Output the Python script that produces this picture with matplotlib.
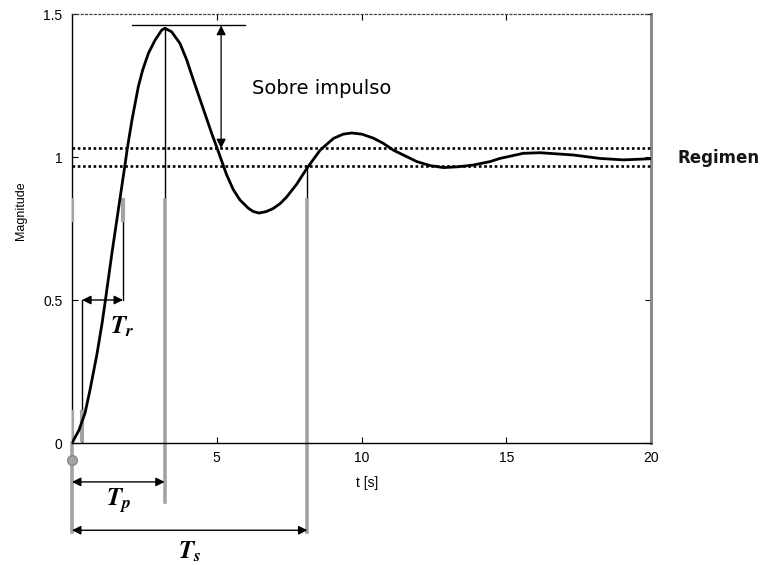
import matplotlib
matplotlib.use("Agg")
import matplotlib.pyplot as plt

# step response
t_resp = [0, 0.24, 0.45, 0.62, 0.86, 1.04, 1.14, 1.38, 1.65, 1.82, 1.91,
          2.07, 2.29, 2.44, 2.64, 2.87, 3.10, 3.21, 3.44, 3.73, 3.96, 4.19,
          4.42, 4.65, 4.83, 5.05, 5.34, 5.57, 5.80, 6.09, 6.25, 6.46, 6.70,
          6.95, 7.20, 7.42, 7.76, 8.11, 8.57, 9.03, 9.37, 9.66, 10.01, 10.41,
          10.75, 11.10, 11.91, 12.37, 12.83, 13.35, 13.86, 14.44, 14.78,
          15.59, 16.17, 17.32, 18.24, 19.04, 20.0]
mag_resp = [0, 0.045, 0.105, 0.185, 0.31, 0.42, 0.49, 0.665, 0.85, 0.966,
            1.030, 1.129, 1.246, 1.304, 1.363, 1.409, 1.444, 1.450, 1.438,
            1.397, 1.340, 1.270, 1.202, 1.134, 1.081, 1.020, 0.938, 0.886,
            0.850, 0.821, 0.810, 0.804, 0.809, 0.820, 0.838, 0.861, 0.905,
            0.960, 1.024, 1.065, 1.080, 1.084, 1.080, 1.066, 1.048, 1.024,
            0.984, 0.970, 0.963, 0.966, 0.972, 0.984, 0.995, 1.013, 1.015,
            1.007, 0.995, 0.990, 0.994]

band_hi = 1.03
band_lo = 0.97
peak_t = 3.2
peak_line = 1.46
rise_start = 0.35
rise_end = 1.76
settle_t = 8.13
xticks = [5, 10, 15, 20]
yticks = [0, 0.5, 1, 1.5]
ytick_labels = ["0", "0.5", "1", "1.5"]

plt.rcParams["font.family"] = ["Liberation Sans", "DejaVu Sans"]

fig = plt.figure(figsize=(7.67, 5.65), dpi=100)
ax = fig.add_axes([0.0939, 0.2159, 0.7549, 0.7593])
grey = "#a3a3a3"

ax.plot(t_resp, mag_resp, color="black", lw=2.0, zorder=5,
        solid_joinstyle="round")

# +-3% band
for v in (band_hi, band_lo):
    ax.plot([0, 20], [v, v], color="black", lw=1.9, ls=(0, (1, 1)), zorder=4)

# overshoot
ax.plot([2.07, 5.98], [peak_line, peak_line], color="black", lw=1.0)
ax.annotate("", xy=(5.15, peak_line), xytext=(5.15, band_hi),
            arrowprops=dict(arrowstyle="<|-|>", color="black", lw=0.9,
                            shrinkA=0, shrinkB=0, mutation_scale=14))
ax.text(6.2, 1.24, "Sobre impulso", fontsize=14, family="DejaVu Sans",
        va="center", ha="left")
ax.text(20.93, 0.997, "Regimen", fontsize=12, family="DejaVu Sans",
        weight="bold", color="#151515", va="center", ha="left", clip_on=False)

# peak time
ax.plot([peak_t, peak_t], [1.45, 0.85], color="black", lw=1.0)
ax.plot([peak_t, peak_t], [0.85, -0.205], color=grey, lw=2.6, clip_on=False)
# settling time
ax.plot([settle_t, settle_t], [band_lo, 0.85], color="black", lw=1.0)
ax.plot([settle_t, settle_t], [0.85, -0.31], color=grey, lw=2.6, clip_on=False)
# left reference line below the axis
ax.plot([0, 0], [0, -0.31], color=grey, lw=2.6, clip_on=False)
ax.plot([0], [-0.06], marker="o", ms=7, color=grey, mec="#888888", clip_on=False)

# rise time
ax.plot([rise_start, rise_start], [0.5, 0.0], color="black", lw=1.0)
ax.plot([rise_end, rise_end], [0.85, 0.5], color="black", lw=1.0)
ax.plot([rise_end, rise_end], [0.78, 0.85], color=grey, lw=3, zorder=3)
ax.plot([0, 0], [0.78, 0.85], color=grey, lw=3, zorder=3)
ax.plot([rise_start, rise_start], [0.01, 0.11], color=grey, lw=3, zorder=3)
ax.plot([0, 0], [0.01, 0.11], color=grey, lw=3, zorder=3)

arrow = dict(arrowstyle="<|-|>", color="black", lw=1.0, shrinkA=0, shrinkB=0,
             mutation_scale=13)
ax.annotate("", xy=(rise_start, 0.5), xytext=(rise_end, 0.5), arrowprops=arrow)
ax.annotate("", xy=(0, -0.136), xytext=(peak_t, -0.136), arrowprops=arrow,
            annotation_clip=False)
ax.annotate("", xy=(0, -0.305), xytext=(settle_t, -0.305), arrowprops=arrow,
            annotation_clip=False)

tlab = dict(fontsize=18, ha="center", va="center", math_fontfamily="stix",
            clip_on=False)
ax.text(1.73, 0.405, r"$\mathbfit{T}_{\mathbfit{r}}$", **tlab)
ax.text(1.6, -0.2, r"$\mathbfit{T}_{\mathbfit{p}}$", **tlab)
ax.text(4.07, -0.38, r"$\mathbfit{T}_{\mathbfit{s}}$", **tlab)

ax.set_xlim(0, 20)
ax.set_ylim(0, 1.5)
ax.set_xticks(xticks)
ax.set_yticks(yticks)
ax.set_yticklabels(ytick_labels)
ax.tick_params(direction="in", top=True, right=True, length=4, labelsize=10,
               width=0.8)
ax.tick_params(axis="y", pad=7)
ax.tick_params(axis="x", pad=6)

ax.spines["top"].set_linestyle((0, (1.5, 2)))
ax.spines["top"].set_linewidth(0.9)
ax.spines["top"].set_color("#444444")
ax.spines["right"].set_color("#8a8a8a")
ax.spines["right"].set_linewidth(2.2)
ax.spines["left"].set_linewidth(1.0)
ax.spines["bottom"].set_linewidth(1.0)

ax.set_xlabel("t [s]", fontsize=10)
ax.xaxis.set_label_coords(0.51, -0.078)
ax.set_ylabel("Magnitude", fontsize=9)
ax.yaxis.set_label_coords(-0.078, 0.541)

fig.savefig("out.png", dpi=100)
